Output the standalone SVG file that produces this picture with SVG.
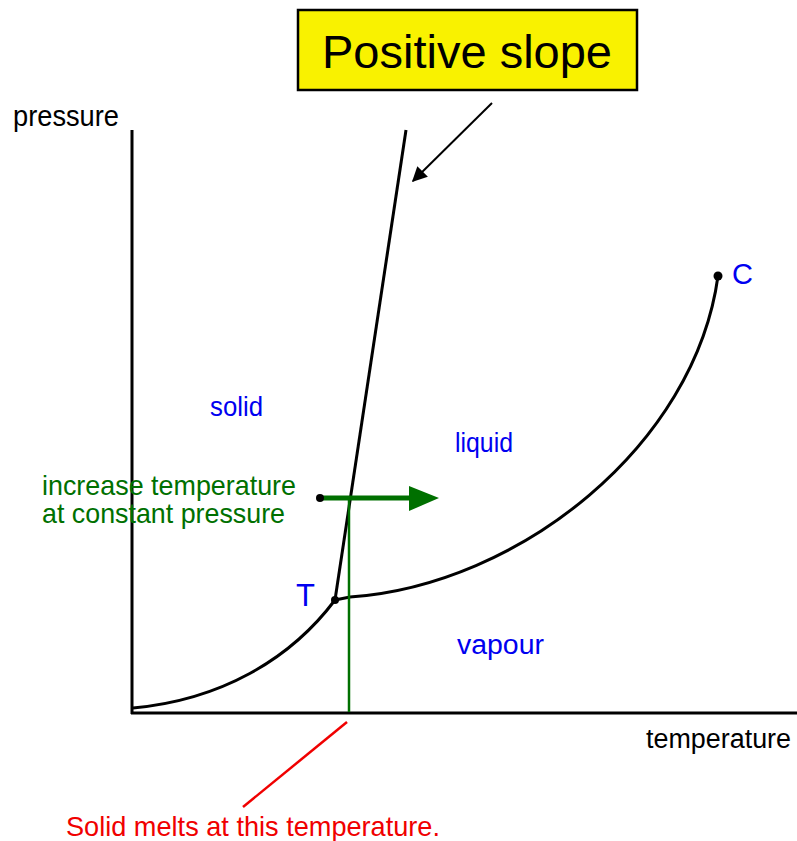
<svg xmlns="http://www.w3.org/2000/svg" width="797" height="841" viewBox="0 0 797 841">
<style>
.ax{stroke:#000;stroke-width:3;fill:none}
.cv{stroke:#000;stroke-width:3;fill:none;stroke-linejoin:round}
.lbl{font-family:"Liberation Sans",Arial,sans-serif;font-size:27px}
.blue{fill:#0000f0}
.green{fill:#007000}
.red{fill:#f00000}
.blk{fill:#000}
</style>
<defs>
<marker id="ah" viewBox="0 0 10 10" refX="9" refY="5" markerWidth="10" markerHeight="7.5" markerUnits="strokeWidth" orient="auto">
<path d="M0,0 L10,5 L0,10 Z" fill="#000"/>
</marker>
</defs>
<rect width="797" height="841" fill="#fff"/>
<g id="axes">
<line class="ax" x1="132" y1="130" x2="132" y2="714"/>
<line class="ax" x1="131" y1="713" x2="797" y2="713"/>
<text class="lbl blk" x="13" y="126" textLength="106" lengthAdjust="spacingAndGlyphs" style="font-size:29px">pressure</text>
<text class="lbl blk" x="646" y="748" textLength="145" lengthAdjust="spacingAndGlyphs">temperature</text>
</g>
<g id="curves">
<path class="cv" d="M133,708 C220,700 290,660 335,600"/>
<path class="cv" d="M335,600 L350,597 C520,585 695,445 718,276"/>
<path class="cv" d="M335,600 L406,130"/>
<circle cx="335" cy="600" r="4" fill="#000"/>
<circle cx="718" cy="276" r="4.5" fill="#000"/>
</g>
<g id="labels">
<text class="lbl blue" x="210" y="416" textLength="53" lengthAdjust="spacingAndGlyphs">solid</text>
<text class="lbl blue" x="455" y="452" textLength="58" lengthAdjust="spacingAndGlyphs">liquid</text>
<text class="lbl blue" x="457" y="654" textLength="87" lengthAdjust="spacingAndGlyphs">vapour</text>
<text class="lbl blue" x="732" y="284" style="font-size:29px">C</text>
<text class="lbl blue" x="296" y="606" style="font-size:31px">T</text>
</g>
<g id="positive-slope">
<rect x="298" y="10" width="339" height="80" fill="#f9f200" stroke="#000" stroke-width="2.5"/>
<text x="467" y="68" text-anchor="middle" style="font-family:'Liberation Sans',Arial,sans-serif;font-size:47px" fill="#000">Positive slope</text>
</g>
<g id="increase-temperature">
<text class="lbl green" x="42" y="495" textLength="254" lengthAdjust="spacingAndGlyphs" style="font-size:28px">increase temperature</text>
<text class="lbl green" x="42" y="523" textLength="243" lengthAdjust="spacingAndGlyphs" style="font-size:28px">at constant pressure</text>
</g>
<g id="melt-note">
<text class="lbl red" x="66" y="836" textLength="374" lengthAdjust="spacingAndGlyphs" style="font-size:28px">Solid melts at this temperature.</text>
</g>
<g id="connectors">
<line x1="492" y1="103" x2="413" y2="181" stroke="#000" stroke-width="2" marker-end="url(#ah)"/>
<line x1="320" y1="498" x2="412" y2="498" stroke="#007000" stroke-width="5"/>
<polygon points="409,486 439,498 409,511" fill="#007000"/>
<circle cx="320" cy="498" r="4" fill="#000"/>
<line x1="349" y1="498" x2="349" y2="712" stroke="#007000" stroke-width="2.5"/>
<line x1="243" y1="807" x2="347" y2="722" stroke="#f00000" stroke-width="2.5"/>
</g>
</svg>
